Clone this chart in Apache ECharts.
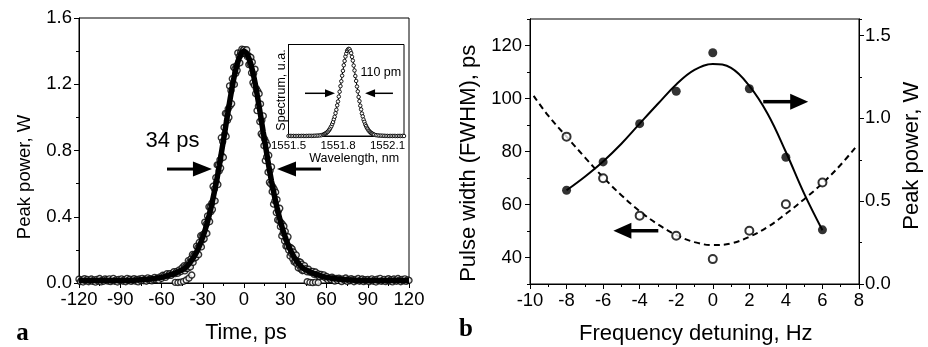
<!DOCTYPE html>
<html><head><meta charset="utf-8">
<script src="https://cdn.jsdelivr.net/npm/echarts@6/dist/echarts.min.js"></script>
<style>html,body{margin:0;padding:0;background:#fff}#c{width:928px;height:347px}</style>
</head><body><div id="c"></div>
<script>
// ---------- Panel a: pulse (Peak power vs time) ----------
// measured samples: left wing t=-120..-45 step 1, core t=-44..44 step 0.5, right wing t=45..120 step 1
const pulseWingLeft = [0.023,0.009,0.018,0.006,0.026,0.013,0.021,0.008,0.016,0.024,
0.010,0.019,0.005,0.022,0.012,0.027,0.007,0.017,0.011,0.025,
0.020,0.012,0.025,0.009,0.017,0.028,0.011,0.019,0.006,0.022,
0.014,
0.025,0.011,0.020,0.008,0.028,0.015,0.023,0.010,0.018,0.026,0.012,0.021,0.007,0.024,0.014,
0.028,0.014,0.023,0.011,0.031,0.018,0.026,0.013,0.021,
0.034,0.020,0.029,0.017,0.037,
0.028,0.047,0.043,0.034,0.056,0.046,0.056,0.046,0.057,0.068,0.057,0.069,0.059,0.079,0.069,0.092];
const pulseCore = [0.081,0.105,0.073,0.100,0.089,0.104,0.089,0.135,0.102,0.126,0.097,0.147,0.133,0.172,0.125,0.167,0.151,0.174,0.154,0.222,0.177,0.213,0.172,0.245,0.227,0.285,0.218,0.281,0.260,0.295,0.267,0.367,0.302,0.355,0.299,0.405,0.381,0.460,0.371,0.458,0.431,0.481,0.444,0.584,0.498,0.569,0.496,0.636,0.606,0.713,0.594,0.713,0.677,0.743,0.694,0.877,0.766,0.854,0.759,0.939,0.899,1.024,0.885,1.022,0.982,1.052,1.000,1.190,1.071,1.162,1.083,1.233,1.201,1.303,1.199,1.293,1.266,1.311,1.284,1.389,1.330,1.368,1.329,1.391,1.383,1.412,1.387,1.404,
1.409,1.387,1.400,1.382,1.408,1.366,1.374,1.319,1.366,1.323,1.362,1.269,1.333,1.210,1.266,1.195,1.291,1.143,1.173,1.041,1.159,1.069,1.143,0.975,1.081,0.901,0.984,0.892,1.009,0.829,0.869,0.739,0.850,0.761,0.831,0.669,0.771,0.608,0.679,0.599,0.701,0.551,0.581,0.476,0.566,0.496,0.548,0.425,0.503,0.381,0.434,0.376,0.451,0.340,0.364,0.284,0.354,0.303,0.343,0.254,0.312,0.223,0.264,0.222,0.279,0.199,0.218,0.163,0.213,0.178,0.206,0.146,0.187,0.127,0.157,0.129,0.169,0.115,0.129,0.091,0.128,0.104,0.126,0.084,0.114,0.074,0.095,0.076,0.105];
const pulseWingRight = [0.086,0.067,0.083,0.065,0.067,0.070,0.052,0.066,0.050,0.055,0.038,0.052,0.041,0.049,0.032,0.040,
0.019,0.031,0.022,0.035,0.027,
0.012,0.027,0.016,0.029,0.021,0.009,0.025,0.018,0.030,
0.010,0.022,0.014,0.026,0.019,0.008,0.021,0.015,0.027,0.011,0.018,0.024,0.009,0.020,0.013,
0.021,0.008,0.017,0.025,0.011,0.019,0.006,0.023,0.014,0.028,0.010,0.016,0.022,0.009,0.018,0.026,0.012,0.020,0.007,0.024,0.015,0.011,0.027,0.017,0.008,0.021,0.013,0.025,0.010,0.019,0.016];
const pulseLowTime = [-50,-48,-46,-44,-42,-40,-38,46,48,50,52,54];
const pulseLowPower = [0.004,0.003,0.005,0.010,0.018,0.030,0.048,0.008,0.004,0.002,0.005,0.003];
const pulseFitTime = [-120,-100,-80,-70,-60,-55,-50,-46,-44,-42,-40,-38,-36,-34,-32,-30,-28,-26,-24,-22,-20,-18,-16,-14,-12,-10,-8,-6,-4,-2,0,2,4,6,8,10,12,14,16,18,20,22,24,26,28,30,32,34,36,38,40,42,44,46,50,55,60,70,80,100,120];
const pulseFitPower = [0.015,0.015,0.017,0.022,0.034,0.046,0.060,0.075,0.083,0.097,0.115,0.137,0.163,0.195,0.232,0.277,0.328,0.388,0.455,0.532,0.615,0.708,0.808,0.910,1.015,1.115,1.210,1.288,1.348,1.385,1.400,1.385,1.348,1.288,1.210,1.115,1.015,0.910,0.808,0.708,0.615,0.532,0.455,0.388,0.328,0.277,0.232,0.195,0.163,0.137,0.115,0.097,0.083,0.075,0.060,0.046,0.034,0.022,0.017,0.015,0.015];
const timeTicks = [-120,-90,-60,-30,0,30,60,90,120];

// ---------- Inset: spectrum ----------
// samples: 1551.50..1551.71 step 0.01, 1551.715..1552.015 step 0.005, 1552.02..1552.20 step 0.01
const spectrum = [0,0.001,0,0.001,0,0,0.001,0,0.001,0.001,0,0.001,0.001,0.002,0.001,
0.002,0.003,0.004,0.005,0.007,0.010,0.015,
0.019,0.024,0.030,0.036,0.045,0.053,0.066,0.079,0.097,0.113,0.137,0.160,0.192,0.221,0.262,0.301,0.352,0.396,0.452,0.508,0.572,0.628,0.692,0.748,0.812,0.861,0.912,0.946,0.977,0.992,
1.000,
0.995,0.973,0.950,0.908,0.865,0.808,0.752,0.688,0.632,0.568,0.512,0.448,0.400,0.348,0.305,0.258,0.225,0.188,0.162,0.133,0.115,0.095,0.081,0.064,0.055,0.043,0.037,0.029,0.025,0.018,
0.015,0.010,0.007,0.005,0.004,0.003,0.002,
0.001,0.001,0,0.001,0,0.001,0,0,0.001,0,0.001,0];
const wavelengthTicks = [1551.5,1551.8,1552.1];

// ---------- Panel b ----------
const detuning = [-8,-6,-4,-2,0,2,4,6];
const pulseWidth = [85.6,69.9,55.8,48.2,39.4,50.1,60.1,68.3];
const peakPower = [0.566,0.737,0.968,1.164,1.396,1.179,0.765,0.327];
const widthFitX = [-9.8,-9,-8,-7,-6,-5,-4,-3,-2,-1,0,1,2,3,4,5,6,7,7.8];
const widthFitY = [101,93.5,85.6,77.8,70.3,63.5,57.5,52.5,48.5,45.8,44.7,45.3,47.8,51.5,56.5,62,68,75,81.5];
const powerFitX = [-8,-7,-6,-5,-4,-3,-2,-1,0,1,2,3,4,5,6];
const powerFitY = [0.566,0.648,0.740,0.847,0.968,1.088,1.205,1.293,1.328,1.305,1.196,1.028,0.797,0.546,0.325];
const widthTicks = [40,60,80,100,120];
const powerTicks = [0,0.5,1.0,1.5];

// ---------- build ----------
function seq(start, step, n){const a=[];for(let i=0;i<n;i++)a.push(+(start+i*step).toFixed(4));return a;}
const tL = seq(-120,1,pulseWingLeft.length), tC = seq(-44,0.5,pulseCore.length), tR = seq(45,1,pulseWingRight.length);
const pulsePts = [];
tL.forEach((t,i)=>pulsePts.push([t,pulseWingLeft[i]]));
tC.forEach((t,i)=>pulsePts.push([t,pulseCore[i]]));
tR.forEach((t,i)=>pulsePts.push([t,pulseWingRight[i]]));
pulseLowTime.forEach((t,i)=>pulsePts.push([t,pulseLowPower[i]]));
const wl = seq(1551.50,0.01,22).concat(seq(1551.715,0.005,61)).concat(seq(1552.02,0.01,19));
const specPts = wl.map((w,i)=>[w,spectrum[i]]);
const zip=(a,b)=>a.map((v,i)=>[v,b[i]]);

const FONT = '"Liberation Sans", Arial, sans-serif';
const BLACK = '#000';
function axisBase(extra){
  return Object.assign({
    type:'value', splitLine:{show:false},
    axisLine:{show:true,onZero:false,lineStyle:{color:BLACK,width:1}},
    axisTick:{show:true,inside:false,length:5,lineStyle:{color:BLACK,width:1}},
    minorTick:{show:false},
    axisLabel:{color:BLACK,fontFamily:FONT,fontSize:18.5,margin:7}
  }, extra);
}
const gridStyle = {show:true,borderColor:BLACK,borderWidth:1,backgroundColor:'transparent',containLabel:false,outerBoundsMode:'none'};

const chart = echarts.init(document.getElementById('c'), null, {renderer:'canvas'});
chart.setOption({
  animation:false,
  backgroundColor:'#fff',
  grid:[
    Object.assign({left:79,top:18,width:330,height:265}, gridStyle),
    Object.assign({left:530,top:19,width:329,height:265}, gridStyle),
    Object.assign({left:288.5,top:44.5,width:115.5,height:91.5}, gridStyle, {backgroundColor:'#fff', z:5})
  ],
  xAxis:[
    axisBase({gridIndex:0,min:-120,max:120,interval:30,position:'bottom',
      minorTick:{show:true,splitNumber:2,length:3,lineStyle:{color:BLACK,width:1}},
      axisLabel:{color:BLACK,fontFamily:FONT,fontSize:18.5,margin:7,customValues:timeTicks}}),
    axisBase({gridIndex:1,min:-10,max:8,interval:2,position:'bottom',
      minorTick:{show:true,splitNumber:2,length:3,lineStyle:{color:BLACK,width:1}}}),
    axisBase({gridIndex:2,min:1551.5,max:1552.2,interval:0.3,position:'bottom',z:6,
      axisTick:{show:false},
      axisLabel:{color:BLACK,fontFamily:FONT,fontSize:11.5,margin:4,customValues:wavelengthTicks,
        formatter:v=>wavelengthTicks.some(w=>Math.abs(w-v)<1e-6)?v.toFixed(1):''}})
  ],
  yAxis:[
    axisBase({gridIndex:0,min:0,max:1.6,interval:0.4,position:'left',
      minorTick:{show:true,splitNumber:2,length:3,lineStyle:{color:BLACK,width:1}},
      axisLabel:{color:BLACK,fontFamily:FONT,fontSize:18.5,margin:7,formatter:v=>v.toFixed(1)}}),
    axisBase({gridIndex:1,min:30,max:130,interval:10,position:'left',
      axisTick:{show:true,length:3,lineStyle:{color:BLACK,width:1}},axisLabel:{show:false}}),
    axisBase({gridIndex:1,min:30,max:130,interval:10,position:'left',
      axisTick:{show:true,length:5,customValues:widthTicks,lineStyle:{color:BLACK,width:1}},
      axisLabel:{color:BLACK,fontFamily:FONT,fontSize:18.5,margin:8,customValues:widthTicks,
        formatter:v=>widthTicks.indexOf(v)>=0?String(v):''}}),
    axisBase({gridIndex:1,min:0,max:1.6,interval:0.25,position:'right',
      axisTick:{show:true,length:3,lineStyle:{color:BLACK,width:1}},axisLabel:{show:false}}),
    axisBase({gridIndex:1,min:0,max:1.6,interval:0.5,position:'right',
      axisTick:{show:true,length:5,customValues:powerTicks,lineStyle:{color:BLACK,width:1}},
      axisLabel:{color:BLACK,fontFamily:FONT,fontSize:18.5,margin:6,customValues:powerTicks,
        formatter:v=>powerTicks.some(p=>Math.abs(p-v)<1e-6)?v.toFixed(1):''}}),
    axisBase({gridIndex:2,min:0,max:1.05,position:'left',z:6,axisTick:{show:false},axisLabel:{show:false}})
  ],
  series:[
    {type:'scatter',xAxisIndex:0,yAxisIndex:0,data:pulsePts,symbol:'circle',symbolSize:6,
      itemStyle:{color:'#fff',borderColor:BLACK,borderWidth:1.4},z:2,large:false},
    {type:'line',xAxisIndex:0,yAxisIndex:0,data:zip(pulseFitTime,pulseFitPower),smooth:0.3,showSymbol:false,
      lineStyle:{color:BLACK,width:5.5},z:3},
    {type:'line',xAxisIndex:2,yAxisIndex:5,data:specPts,symbol:'circle',symbolSize:3.5,showSymbol:true,
      itemStyle:{color:'#fff',borderColor:BLACK,borderWidth:0.9},lineStyle:{color:BLACK,width:1},z:7},
    {type:'line',xAxisIndex:1,yAxisIndex:2,data:zip(widthFitX,widthFitY),smooth:0.4,showSymbol:false,
      lineStyle:{color:BLACK,width:2,type:[6,4]},z:2},
    {type:'line',xAxisIndex:1,yAxisIndex:4,data:zip(powerFitX,powerFitY),smooth:0.4,showSymbol:false,
      lineStyle:{color:BLACK,width:2},z:2},
    {type:'scatter',xAxisIndex:1,yAxisIndex:2,data:zip(detuning,pulseWidth),symbol:'circle',symbolSize:8,
      itemStyle:{color:'#fff',borderColor:BLACK,borderWidth:2},z:4},
    {type:'scatter',xAxisIndex:1,yAxisIndex:4,data:zip(detuning,peakPower),symbol:'circle',symbolSize:9,
      itemStyle:{color:BLACK,borderColor:BLACK,borderWidth:0},z:4}
  ]
});

// ---------- annotations ----------
const arrows = [
  {x:0,y:0,from:[-56,0.688],to:[-23.3,0.688],hl:19,hw:7.5,w:3},
  {x:0,y:0,from:[56,0.688],to:[24,0.688],hl:19,hw:7.5,w:3},
  {x:2,y:5,from:[1551.6,0.49],to:[1551.782,0.49],hl:10,hw:4,w:1.5},
  {x:2,y:5,from:[1552.133,0.49],to:[1551.964,0.49],hl:10,hw:4,w:1.5},
  {x:1,y:2,from:[2.76,98.8],to:[5.22,98.8],hl:18,hw:8,w:3.5},
  {x:1,y:2,from:[-2.98,50.1],to:[-5.44,50.1],hl:18,hw:8,w:3.5}
];
const els = [];
arrows.forEach(a=>{
  const f = chart.convertToPixel({xAxisIndex:a.x,yAxisIndex:a.y}, a.from);
  const t = chart.convertToPixel({xAxisIndex:a.x,yAxisIndex:a.y}, a.to);
  const dx=t[0]-f[0], dy=t[1]-f[1], L=Math.hypot(dx,dy), ux=dx/L, uy=dy/L;
  const bx=t[0]-ux*a.hl, by=t[1]-uy*a.hl;
  els.push({type:'line',z:100,silent:true,shape:{x1:f[0],y1:f[1],x2:bx+ux,y2:by+uy},style:{stroke:BLACK,lineWidth:a.w}});
  els.push({type:'polygon',z:100,silent:true,shape:{points:[[t[0],t[1]],[bx-uy*a.hw,by+ux*a.hw],[bx+uy*a.hw,by-ux*a.hw]]},style:{fill:BLACK}});
});
function txt(s,x,y,size,opt){
  opt=opt||{};
  return {type:'text',z:100,silent:true,x:x,y:y,rotation:opt.rot||0,
    style:{text:s,fill:BLACK,font:(opt.bold?'bold ':'')+size+'px '+(opt.serif?'"Liberation Serif", "Times New Roman", serif':FONT),
      align:'center',verticalAlign:'middle'}};
}
els.push(txt('Peak power, W',25,177,18.5,{rot:Math.PI/2}));
els.push(txt('Time, ps',246,333.5,21.5));
els.push(txt('a',22.5,333.5,25,{bold:true,serif:true}));
els.push(txt('34 ps',172.5,140.7,22));
els.push(txt('110 pm',380.8,72.4,12.5));
els.push(txt('Spectrum, u.a.',282,90,12.5,{rot:Math.PI/2}));
els.push(txt('Wavelength, nm',354.2,159,12.5));
els.push(txt('Pulse width (FWHM), ps',469,163.3,22,{rot:Math.PI/2}));
els.push(txt('Peak power, W',912,155.8,22,{rot:Math.PI/2}));
els.push(txt('Frequency detuning, Hz',695.8,333.5,22));
els.push(txt('b',466,330,25,{bold:true,serif:true}));
chart.setOption({graphic:{elements:els}});
</script></body></html>
